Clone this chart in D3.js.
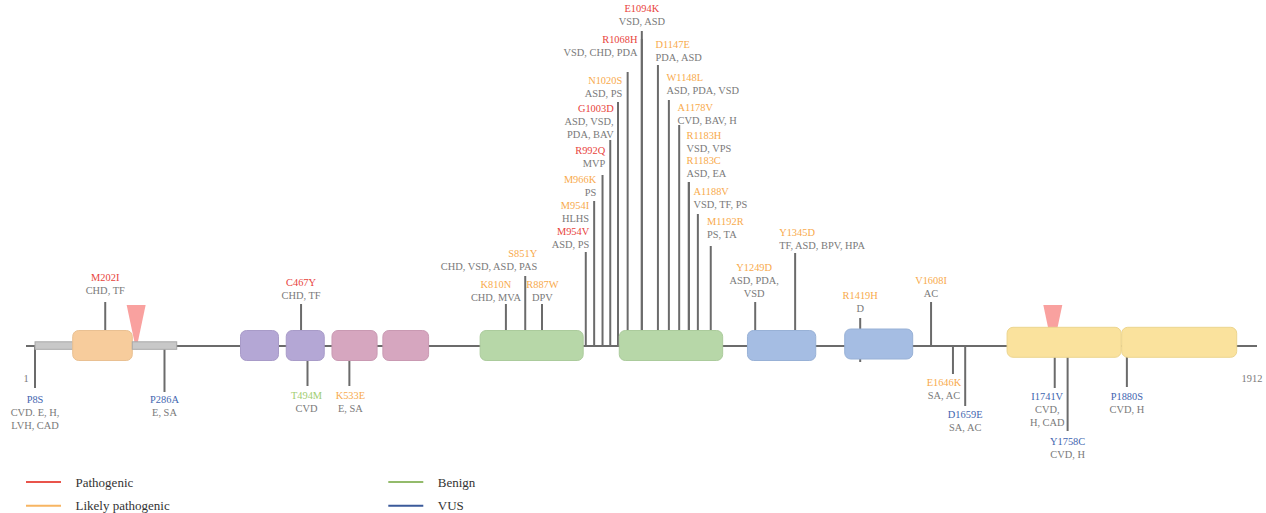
<!DOCTYPE html>
<html>
<head>
<meta charset="utf-8">
<script src="https://cdn.jsdelivr.net/npm/d3@7"></script>
<style>
  body { margin: 0; background: #fff; }
  text { font-family: "Liberation Serif", "DejaVu Serif", serif; }
</style>
</head>
<body>
<svg id="chart" width="1266" height="513"></svg>
<script>
// Schematic protein track (not to scale). Positions are given in track units 1..1912.
const proteinLength = 1912;

const domainStart = [15, 73.5, 166, 334, 405, 476, 555, 706, 922, 1121, 1272, 1524, 1702];
const domainEnd   = [74, 166, 235, 393, 464, 546, 626, 866, 1082.5, 1227, 1377.5, 1701, 1880.5];
const domainKind  = ["linker", "head", "linker", "ig", "ig", "fn", "fn", "coil", "coil", "rod", "rod", "tail", "tail"];

// Cleavage / site markers on the track
const markerPos = [172, 1595];

// Variants
const mutations = [
  "M202I", "C467Y", "K810N", "S851Y", "R887W",
  "M954V", "M954I", "M966K", "R992Q", "G1003D", "N1020S", "R1068H", "E1094K",
  "D1147E", "W1148L", "A1178V", "R1183H", "R1183C", "A1188V", "M1192R",
  "Y1249D", "Y1345D", "R1419H", "V1608I",
  "P8S", "P286A", "T494M", "K533E", "E1646K", "D1659E", "I1741V", "Y1758C", "P1880S"
];
const mutationPos = [
  124, 428, 746, 776, 802,
  870, 883, 896, 908, 920, 935, 957, 957,
  982, 999, 1015, 1030, 1030, 1044, 1064,
  1133, 1195, 1296, 1406,
  15, 216, 438, 503, 1440, 1459, 1598, 1618, 1710
];
const mutationClass = [
  "Pathogenic", "Pathogenic", "Likely pathogenic", "Likely pathogenic", "Likely pathogenic",
  "Pathogenic", "Likely pathogenic", "Likely pathogenic", "Pathogenic", "Pathogenic", "Likely pathogenic", "Pathogenic", "Pathogenic",
  "Likely pathogenic", "Likely pathogenic", "Likely pathogenic", "Likely pathogenic", "Likely pathogenic", "Likely pathogenic", "Likely pathogenic",
  "Likely pathogenic", "Likely pathogenic", "Likely pathogenic", "Likely pathogenic",
  "VUS", "VUS", "Benign", "Likely pathogenic", "Likely pathogenic", "VUS", "VUS", "VUS", "VUS"
];
const phenotypes = [
  ["CHD, TF"], ["CHD, TF"], ["CHD, MVA"], ["CHD, VSD, ASD, PAS"], ["DPV"],
  ["ASD, PS"], ["HLHS"], ["PS"], ["MVP"], ["ASD, VSD,", "PDA, BAV"], ["ASD, PS"], ["VSD, CHD, PDA"], ["VSD, ASD"],
  ["PDA, ASD"], ["ASD, PDA, VSD"], ["CVD, BAV, H"], ["VSD, VPS"], ["ASD, EA"], ["VSD, TF, PS"], ["PS, TA"],
  ["ASD, PDA,", "VSD"], ["TF, ASD, BPV, HPA"], ["D"], ["AC"],
  ["CVD. E, H,", "LVH, CAD"], ["E, SA"], ["CVD"], ["E, SA"], ["SA, AC"], ["SA, AC"], ["CVD,", "H, CAD"], ["CVD, H"], ["CVD, H"]
];

const legendClasses = ["Pathogenic", "Likely pathogenic", "Benign", "VUS"];

// ---- layout -------------------------------------------------------------
const W = 1266, H = 513;
const trackY = 346;

// label placement per variant: side, stem reach (px), text anchor, label dx from stem, name centre y
const labelLayout = [
  ["up", 44, "middle", 0, 277], ["up", 42, "middle", 0, 282.7], ["up", 42, "middle", -10, 284.3], ["up", 70, "end", 12, 253.3], ["up", 42, "middle", 0.5, 284.3],
  ["up", 94, "end", 3.5, 231.7], ["up", 145, "end", -5, 205], ["up", 171, "end", -6.3, 179], ["up", 206, "end", -5, 150], ["up", 244, "end", -4.3, 108.3], ["up", 274, "end", -5.4, 80], ["up", 307, "end", -4.4, 39.3], ["up", 315, "middle", 0, 8],
  ["up", 281, "start", -2.4, 44], ["up", 246, "start", -2.3, 77.3], ["up", 221, "start", -1.6, 107.3], ["up", 164, "start", -2.3, 135.7], ["up", 164, "start", -2.3, 160], ["up", 132, "start", -4.4, 191.7], ["up", 100, "start", -3.7, 221.7],
  ["up", 44, "middle", -1, 267.3], ["up", 93, "start", -16, 232.7], ["up", 28, "middle", 0, 295.7], ["up", 44, "middle", 0, 280],
  ["down", 42, "middle", 0, 399], ["down", 46, "middle", 0, 399.3], ["down", 40, "middle", -1, 395], ["down", 40, "middle", 1, 395],
  ["down", 28, "middle", -9, 382.7], ["down", 60, "middle", 0, 414], ["down", 42, "middle", -7.5, 396], ["down", 85, "middle", 0, 441], ["down", 41, "middle", 0, 396.7]
];

const classColor = d3.scaleOrdinal()
  .domain(legendClasses)
  .range(["#e8433c", "#f8aa4c", "#9fcd6f", "#3f66b0"]);
const legendLineColor = d3.scaleOrdinal()
  .domain(legendClasses)
  .range(["#e9544b", "#f7b562", "#93bb6b", "#3b5a9a"]);

const domainFill = {
  linker: "#c8c8c8", head: "#f7cc9c", ig: "#b4a7d5", fn: "#d6a6bf",
  coil: "#b7d7a8", rod: "#a5bde3", tail: "#fae29d"
};
const domainStroke = {
  linker: "#a9a9a9", head: "#e9c092", ig: "#a89bc8", fn: "#c999b2",
  coil: "#abcb9c", rod: "#98b1d6", tail: "#ecd58f"
};

const x = d3.scaleLinear().domain([1, proteinLength]).range([26, 1257]);

const svg = d3.select("#chart");
svg.append("rect").attr("width", W).attr("height", H).attr("fill", "#fff");

// backbone
svg.append("line")
  .attr("x1", x(1)).attr("x2", x(proteinLength))
  .attr("y1", trackY).attr("y2", trackY)
  .attr("stroke", "#6b6b6b").attr("stroke-width", 2);

const rows = mutations.map((name, i) => ({
  name, pos: mutationPos[i], cls: mutationClass[i], pheno: phenotypes[i],
  side: labelLayout[i][0], reach: labelLayout[i][1], anchor: labelLayout[i][2],
  dx: labelLayout[i][3], nameY: labelLayout[i][4]
}));

// stems (drawn under the domain boxes)
svg.append("g").selectAll("line").data(rows).join("line")
  .attr("x1", d => x(d.pos)).attr("x2", d => x(d.pos))
  .attr("y1", d => d.name === "R1419H" ? trackY + 16 : trackY)
  .attr("y2", d => d.side === "up" ? trackY - d.reach : trackY + d.reach)
  .attr("stroke", "#6b6b6b").attr("stroke-width", 2);

// site markers: downward wedges whose tips tuck under the track
svg.append("g").selectAll("path").data(markerPos).join("path")
  .attr("d", d => {
    const cx = x(d), top = 305, tip = 350, hw = 9.5;
    return `M${cx - hw},${top}L${cx + hw},${top}L${cx},${tip}Z`;
  })
  .attr("fill", "#f9a19f");

// domains
const doms = domainStart.map((s, i) => ({ s, e: domainEnd[i], kind: domainKind[i] }));
svg.append("g").selectAll("rect").data(doms).join("rect")
  .attr("x", d => x(d.s))
  .attr("width", d => x(d.e) - x(d.s))
  .attr("y", d => d.kind === "linker" ? 341.8 : (d.kind === "tail" ? 327.3 : (d.s === 1272 ? 329 : 330.5)))
  .attr("height", d => d.kind === "linker" ? 7.5 : 30)
  .attr("rx", d => d.kind === "linker" ? 0 : 6)
  .attr("fill", d => domainFill[d.kind])
  .attr("stroke", d => domainStroke[d.kind])
  .attr("stroke-width", 1);

// labels
const lineH = 13;
const lab = svg.append("g").selectAll("g").data(rows).join("g");
lab.append("text")
  .attr("x", d => x(d.pos) + d.dx)
  .attr("y", d => d.nameY)
  .attr("dy", "0.35em")
  .attr("text-anchor", d => d.anchor)
  .attr("font-size", 10.4)
  .attr("fill", d => classColor(d.cls))
  .text(d => d.name);
lab.each(function (d) {
  d3.select(this).selectAll("text.ph").data(d.pheno).join("text")
    .attr("class", "ph")
    .attr("x", x(d.pos) + d.dx)
    .attr("y", (p, j) => d.nameY + lineH * (j + 1))
    .attr("dy", "0.35em")
    .attr("text-anchor", d.anchor)
    .attr("font-size", 10.4)
    .attr("fill", "#7a7a7a")
    .text(p => p);
});

// track ends
svg.append("text").attr("x", x(1)).attr("y", 378).attr("dy", "0.35em")
  .attr("text-anchor", "middle").attr("font-size", 10.4).attr("fill", "#7a7a7a").text("1");
svg.append("text").attr("x", x(proteinLength) - 5).attr("y", 378).attr("dy", "0.35em")
  .attr("text-anchor", "middle").attr("font-size", 10.4).attr("fill", "#7a7a7a").text(String(proteinLength));

// legend
const legendCols = [26, 388.3];
const legendRows = [482, 505.7];
const leg = svg.append("g").selectAll("g").data(legendClasses).join("g")
  .attr("transform", (d, i) => `translate(${legendCols[Math.floor(i / 2)]},${legendRows[i % 2]})`);
leg.append("line").attr("x1", 0).attr("x2", 35).attr("y1", 0).attr("y2", 0)
  .attr("stroke", d => legendLineColor(d)).attr("stroke-width", 2);
leg.append("text").attr("x", 49.5).attr("y", 0).attr("dy", "0.35em")
  .attr("font-size", 13).attr("fill", "#333").text(d => d);
</script>
</body>
</html>
